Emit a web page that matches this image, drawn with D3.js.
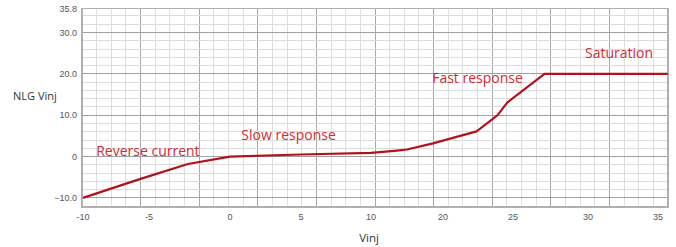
<!DOCTYPE html>
<html><head><meta charset="utf-8">
<script src="https://cdn.jsdelivr.net/npm/d3@7"></script>
<style>body{margin:0;background:#fff}svg{display:block}</style>
</head><body><svg id="c" width="676" height="247"></svg>
<script>
// x tick labels as printed on the reference axis (note: no "15")
const xTicks = [-10, -5, 0, 5, 10, 20, 25, 30, 35];
const yTicks = [-10, 0, 10, 20, 30, 35.8];
// NLG Vinj vs Vinj
const vinj = [-10, -5.7, -2.6, 0, 5, 10, 13.6, 15, 18.6, 22.4, 23.9, 24.6, 27.1, 35.7];
const nlg  = [-10, -5.45, -1.8, 0, 0.5, 0.9, 1.45, 1.7, 3.2, 6.1, 10.0, 13.1, 20, 20];
const notes = [
  {text: "Reverse current", x: -9.0, y: 0.2},
  {text: "Slow response", x: 0.8, y: 4},
  {text: "Fast response", x: 18.5, y: 17.8},
  {text: "Saturation", x: 29.8, y: 23.8}
];

const L = 82, R = 668, T = 8.5, B = 207;
const svg = d3.select("#c");
const y = d3.scaleLinear().domain([-12.2, 35.8]).range([B, T]);
// the reference's x axis is unevenly spaced; piecewise linear scale through label positions
const x = d3.scaleLinear().domain(xTicks).range([83, 149, 230, 301, 371, 443, 513, 588, 658]);
const grid = d3.scaleLinear().domain([0, 40]).range([L, R]);

const g = svg.append("g");
// vertical grid
d3.range(0, 41).forEach(i => {
  g.append("line").attr("x1", grid(i)).attr("x2", grid(i)).attr("y1", T).attr("y2", B)
    .attr("stroke", i % 4 === 0 ? "#a8a8a8" : "#e0e0e0").attr("stroke-width", 1)
    .attr("shape-rendering", "crispEdges");
});
// horizontal grid
d3.range(-12, 36, 2).forEach(v => {
  g.append("line").attr("x1", L).attr("x2", R).attr("y1", y(v)).attr("y2", y(v))
    .attr("stroke", v % 10 === 0 ? "#a0a0a0" : "#dcdcdc").attr("stroke-width", 1)
    .attr("shape-rendering", "crispEdges");
});
// border
g.append("rect").attr("x", L).attr("y", T).attr("width", R - L).attr("height", B - T)
  .attr("fill", "none").attr("stroke", "#b0b0b0").attr("stroke-width", 1.2)
  .attr("shape-rendering", "crispEdges");

// y tick labels
svg.append("g").selectAll("text").data(yTicks).join("text")
  .attr("x", 77).attr("y", d => y(d)).attr("dy", "0.35em").attr("text-anchor", "end")
  .attr("font-family", "Liberation Sans, Arial, sans-serif").attr("font-size", 9).attr("fill", "#555")
  .text(d => d === 0 ? "0" : d3.format(".1f")(d));
// x tick labels
svg.append("g").selectAll("text").data(xTicks).join("text")
  .attr("x", d => x(d)).attr("y", 220).attr("text-anchor", "middle")
  .attr("font-family", "Liberation Sans, Arial, sans-serif").attr("font-size", 9).attr("fill", "#555")
  .text(d => d);

// axis titles
svg.append("text").attr("x", 13).attr("y", 100).attr("font-family", "Open Sans, sans-serif")
  .attr("font-size", 11).attr("fill", "#333").text("NLG Vinj");
svg.append("text").attr("x", 369).attr("y", 242).attr("text-anchor", "middle").attr("font-family", "Open Sans, sans-serif")
  .attr("font-size", 11.5).attr("fill", "#333").text("Vinj");

// line
const pts = vinj.map((v, i) => [v, nlg[i]]);
svg.append("path").datum(pts)
  .attr("d", d3.line().x(d => x(d[0])).y(d => y(d[1])))
  .attr("fill", "none").attr("stroke", "#b3111c").attr("stroke-width", 2.2)
  .attr("stroke-linejoin", "round");

// annotations
svg.append("g").selectAll("text").data(notes).join("text")
  .attr("x", d => x(d.x)).attr("y", d => y(d.y))
  .attr("font-family", "Open Sans, sans-serif").attr("font-size", 14).attr("fill", "#d42a34")
  .text(d => d.text);
</script></body></html>
